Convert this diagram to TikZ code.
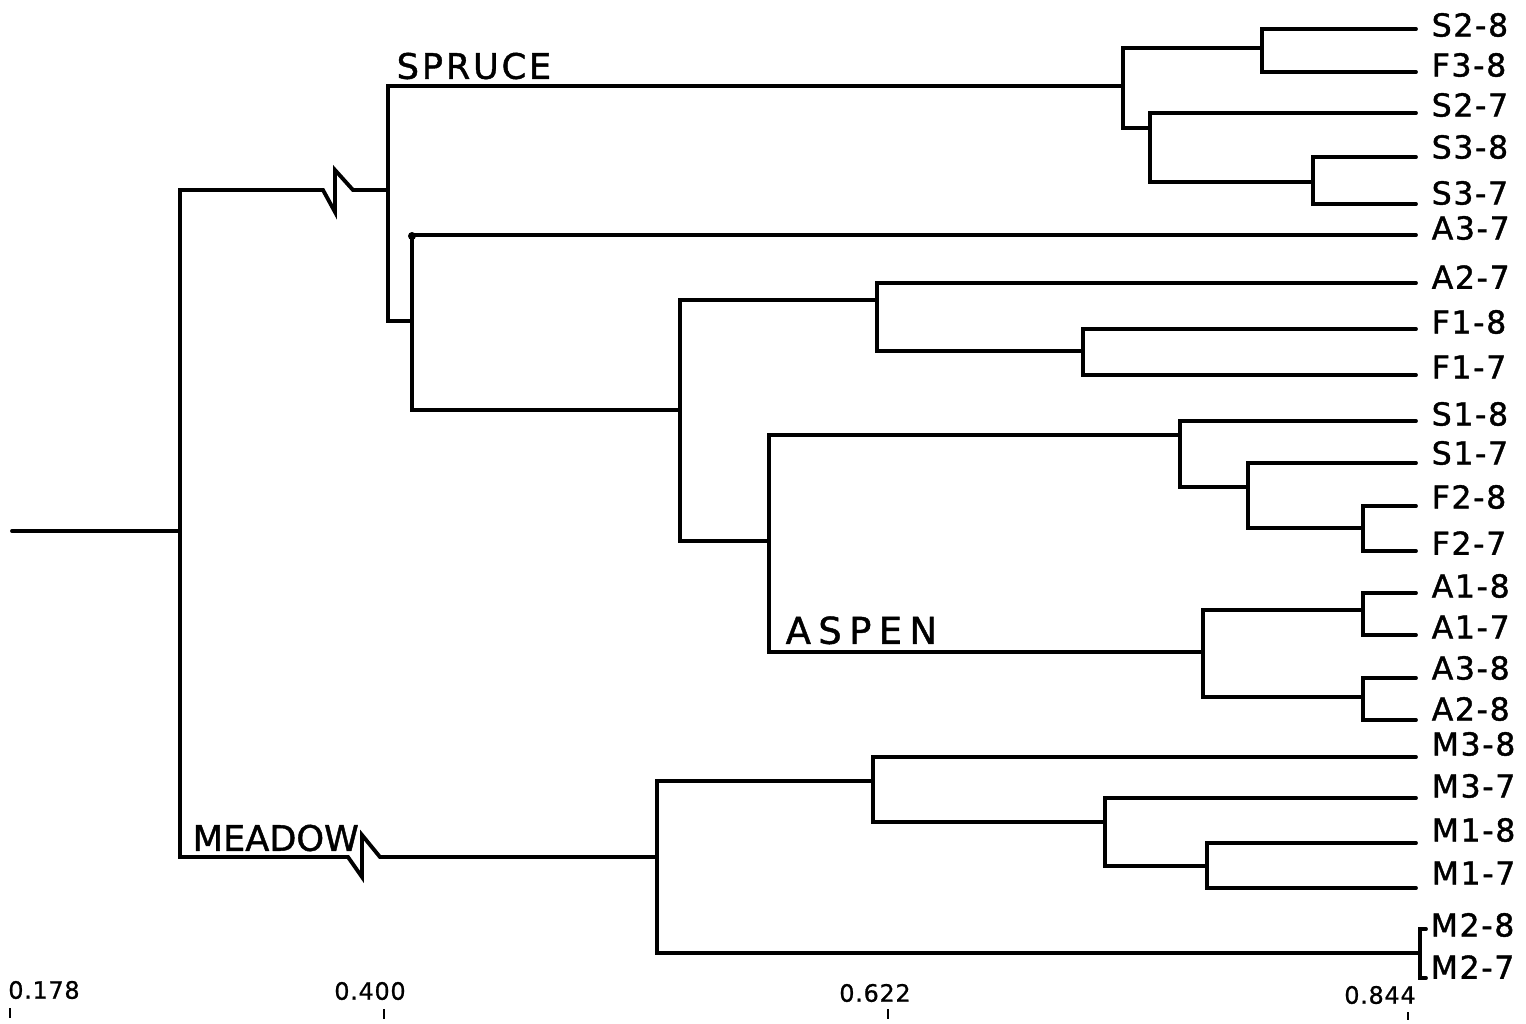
\documentclass[tikz,border=0pt]{standalone}
\usepackage{fontspec}
\setmainfont{DejaVu Sans}
\usepackage{tikz}
\usetikzlibrary{positioning}

\begin{document}
\begin{tikzpicture}[
  x=0.01cm, y=-0.01cm,
  tree/.style={line width=1.1pt, line cap=round},
  tickmark/.style={line width=0.8pt},
  leaf/.style={anchor=west, inner sep=0pt, font={\fontsize{9}{10}\selectfont\addfontfeatures{LetterSpace=5, FakeBold=1.2}}},
  group/.style={anchor=south west, inner sep=0pt},
  axislabel/.style={inner sep=0pt, font={\fontsize{6.8}{8}\selectfont\addfontfeatures{LetterSpace=3, FakeBold=0.8}}}
]
\useasboundingbox (0,0) rectangle (1526,1023);

% --- Leaf ends ---
\coordinate (s28) at (1416,29);
\coordinate (f38) at (1416,72);
\coordinate (s27) at (1416,113);
\coordinate (s38) at (1416,157);
\coordinate (s37) at (1416,204);
\coordinate (a37) at (1416,235);
\coordinate (a27) at (1416,283);
\coordinate (f18) at (1416,329);
\coordinate (f17) at (1416,375);
\coordinate (s18) at (1416,421);
\coordinate (s17) at (1416,463);
\coordinate (f28) at (1416,506);
\coordinate (f27) at (1416,551);
\coordinate (a18) at (1416,593);
\coordinate (a17) at (1416,635);
\coordinate (a38) at (1416,678);
\coordinate (a28) at (1416,720);
\coordinate (m38) at (1416,757);
\coordinate (m37) at (1416,798);
\coordinate (m18) at (1416,843);
\coordinate (m17) at (1416,888);
\coordinate (m28) at (1426,929);
\coordinate (m27) at (1426,978);

% --- Leaf labels ---
\node[leaf] (ls28) at (1431,25) {S2-8};
\node[leaf] (lf38) at (1431,65) {F3-8};
\node[leaf] (ls27) at (1431,105) {S2-7};
\node[leaf] (ls38) at (1431,147) {S3-8};
\node[leaf] (ls37) at (1431,193) {S3-7};
\node[leaf] (la37) at (1431,228) {A3-7};
\node[leaf] (la27) at (1431,277) {A2-7};
\node[leaf] (lf18) at (1431,322) {F1-8};
\node[leaf] (lf17) at (1431,367) {F1-7};
\node[leaf] (ls18) at (1431,414) {S1-8};
\node[leaf] (ls17) at (1431,453) {S1-7};
\node[leaf] (lf28) at (1431,497) {F2-8};
\node[leaf] (lf27) at (1431,543) {F2-7};
\node[leaf] (la18) at (1431,586) {A1-8};
\node[leaf] (la17) at (1431,627) {A1-7};
\node[leaf] (la38) at (1431,668) {A3-8};
\node[leaf] (la28) at (1431,709) {A2-8};
\node[leaf] (lm38) at (1431,744) {M3-8};
\node[leaf] (lm37) at (1431,786) {M3-7};
\node[leaf] (lm18) at (1431,830) {M1-8};
\node[leaf] (lm17) at (1431,873) {M1-7};
\node[leaf] (lm28) at (1430,925) {M2-8};
\node[leaf] (lm27) at (1430,967) {M2-7};

% --- Junctions ---
\coordinate (root) at (12,531);
\coordinate (jr) at (180,531);
\coordinate (ja) at (1262,48);
\coordinate (jb) at (1313,182);
\coordinate (jc) at (1150,128);
\coordinate (jd) at (1123,86);
\coordinate (je) at (388,190);
\coordinate (jf) at (412,321);
\coordinate (jg) at (680,410);
\coordinate (jh) at (877,300);
\coordinate (ji) at (1083,351);
\coordinate (jk) at (769,541);
\coordinate (jl) at (1180,435);
\coordinate (jm) at (1203,652);
\coordinate (jn) at (1248,487);
\coordinate (jo) at (1363,528);
\coordinate (jp) at (1363,610);
\coordinate (jq) at (1363,697);
\coordinate (js) at (657,857);
\coordinate (jt) at (873,781);
\coordinate (ju) at (1105,822);
\coordinate (jv) at (1207,866);
\coordinate (jw) at (1420,953);

% --- Spruce cluster ---
\draw[tree] (s28) -| (ja) |- (f38);
\draw[tree] (s38) -| (jb) |- (s37);
\draw[tree] (s27) -| (jc) |- (jb);
\draw[tree] (ja) -| (jd) |- (jc);
\draw[tree] (jd) -| (je) |- (jf);
\draw[tree] (a37) -| (jf) |- (jg);
\fill (412,236) circle (4);

% --- Aspen / mixed cluster ---
\draw[tree] (jh) -| (jg) |- (jk);
\draw[tree] (a27) -| (jh) |- (ji);
\draw[tree] (f18) -| (ji) |- (f17);
\draw[tree] (jl) -| (jk) |- (jm);
\draw[tree] (s18) -| (jl) |- (jn);
\draw[tree] (s17) -| (jn) |- (jo);
\draw[tree] (f28) -| (jo) |- (f27);
\draw[tree] (jp) -| (jm) |- (jq);
\draw[tree] (a18) -| (jp) |- (a17);
\draw[tree] (a38) -| (jq) |- (a28);

% --- Meadow cluster ---
\draw[tree] (jt) -| (js) |- (jw);
\draw[tree] (m38) -| (jt) |- (ju);
\draw[tree] (m37) -| (ju) |- (jv);
\draw[tree] (m18) -| (jv) |- (m17);
\draw[tree] (m28) -| (jw) |- (m27);

% --- Root with broken branches ---
\draw[tree] (root) -- (jr);
\draw[tree] (je) -- ++(-35,0) -- ++(-18,-20) -- ++(0,42) -- ++(-12,-22) -| (jr);
\draw[tree] (js) -- ++(-277,0) -- ++(-18,-22) -- ++(0,42) -- ++(-14,-20) -| (jr);

% --- Group names ---
\node[group, font={\fontsize{10}{12}\selectfont\addfontfeatures{LetterSpace=8, FakeBold=1.2}}] (spruce) at (396,80) {SPRUCE};
\node[group, font={\fontsize{10.5}{12}\selectfont\addfontfeatures{LetterSpace=20, FakeBold=1.2}}] (aspen) at (785,645) {ASPEN};
\node[group, font={\fontsize{10}{12}\selectfont\addfontfeatures{FakeBold=1.2}}] (meadow) at (192,852) {MEADOW};

% --- Scale ---
\node[axislabel] (t178) at (44,990) {0.178};
\node[axislabel] (t400) at (370,991) {0.400};
\node[axislabel] (t622) at (875,993) {0.622};
\node[axislabel] (t844) at (1380,995) {0.844};
\draw[tickmark] (10,1008) -- (10,1018);
\draw[tickmark] (384,1009) -- (384,1019);
\draw[tickmark] (888,1009) -- (888,1019);
\draw[tickmark] (1408,1012) -- (1408,1020);

\end{tikzpicture}
\end{document}
